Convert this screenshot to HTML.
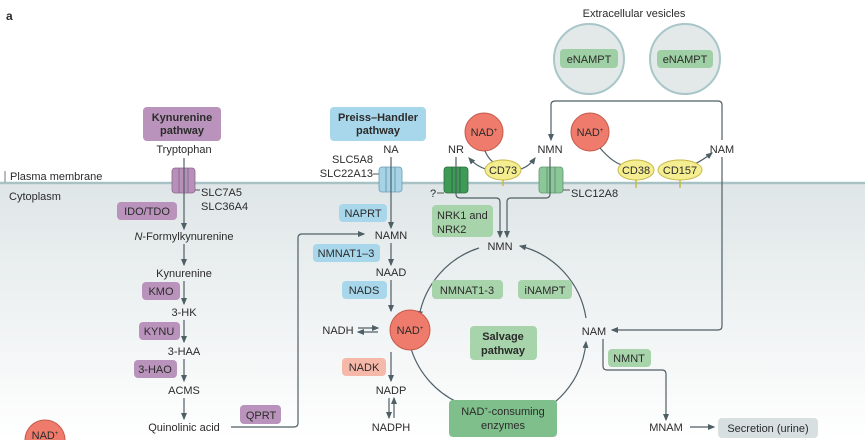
<!DOCTYPE html>
<html><head><meta charset="utf-8"><style>
html,body{margin:0;padding:0;background:#fff;}
svg{display:block;}
text{font-family:"Liberation Sans",sans-serif;font-size:11px;fill:#2b2b2b;}
.b{font-weight:bold;}
.ln{stroke:#4f5f66;stroke-width:1.2;fill:none;}
</style></head><body>
<svg width="865" height="440" viewBox="0 0 865 440" xmlns="http://www.w3.org/2000/svg">
<defs>
<linearGradient id="cg" x1="0" y1="0" x2="0" y2="1">
<stop offset="0" stop-color="#dfe6e7"/><stop offset="1" stop-color="#ffffff"/>
</linearGradient>
<marker id="ar" viewBox="0 0 6 6" refX="5" refY="3" markerWidth="6" markerHeight="6" orient="auto"><path d="M0,0.5 L6,3 L0,5.5 Z" fill="#4f5f66"/></marker>
</defs>
<rect x="0" y="183" width="865" height="257" fill="url(#cg)"/>
<line x1="0" y1="183" x2="865" y2="183" stroke="#a7c1c4" stroke-width="2.5"/>
<text x="6" y="20" class="b" style="font-size:12px">a</text>
<line x1="5" y1="171" x2="5" y2="182" stroke="#555" stroke-width="0.8"/>
<text x="10" y="180">Plasma membrane</text>
<text x="9" y="200">Cytoplasm</text>

<!-- vesicles -->
<text x="634" y="17" text-anchor="middle">Extracellular vesicles</text>
<circle cx="589" cy="59" r="35" fill="#e3e9e9" stroke="#a9c6c8" stroke-width="2"/>
<circle cx="685" cy="59" r="35" fill="#e3e9e9" stroke="#a9c6c8" stroke-width="2"/>
<rect x="560" y="49" width="58" height="19" rx="4" fill="#9fcfa4"/>
<text x="589" y="63" text-anchor="middle">eNAMPT</text>
<rect x="657" y="50" width="56" height="18" rx="4" fill="#9fcfa4"/>
<text x="685" y="63" text-anchor="middle">eNAMPT</text>

<!-- Kynurenine -->
<rect x="143" y="107" width="78" height="34" rx="4" fill="#b993bb"/>
<text x="182" y="121" text-anchor="middle" class="b">Kynurenine</text>
<text x="182" y="134" text-anchor="middle" class="b">pathway</text>
<text x="184" y="153" text-anchor="middle">Tryptophan</text>
<rect x="172" y="168" width="23" height="25" rx="3" fill="#b78fb9" stroke="#8b6a8d" stroke-width="0.8"/>
<line x1="179" y1="168" x2="179" y2="193" stroke="#8b6a8d"/><line x1="188" y1="168" x2="188" y2="193" stroke="#8b6a8d"/>
<line x1="195" y1="190" x2="200" y2="190" stroke="#555"/>
<text x="201" y="196">SLC7A5</text>
<text x="201" y="210">SLC36A4</text>
<line class="ln" x1="184" y1="158" x2="184" y2="229" marker-end="url(#ar)"/>
<rect x="117" y="202" width="60" height="18" rx="4" fill="#b993bb"/>
<text x="147" y="215" text-anchor="middle">IDO/TDO</text>
<text x="184" y="240" text-anchor="middle"><tspan font-style="italic">N</tspan>-Formylkynurenine</text>
<line class="ln" x1="184" y1="244" x2="184" y2="265" marker-end="url(#ar)"/>
<text x="184" y="277" text-anchor="middle">Kynurenine</text>
<line class="ln" x1="184" y1="281" x2="184" y2="304" marker-end="url(#ar)"/>
<rect x="142" y="282" width="38" height="18" rx="4" fill="#b993bb"/>
<text x="161" y="295" text-anchor="middle">KMO</text>
<text x="184" y="316" text-anchor="middle">3-HK</text>
<line class="ln" x1="184" y1="320" x2="184" y2="342" marker-end="url(#ar)"/>
<rect x="139" y="322" width="41" height="18" rx="4" fill="#b993bb"/>
<text x="159" y="335" text-anchor="middle">KYNU</text>
<text x="184" y="355" text-anchor="middle">3-HAA</text>
<line class="ln" x1="184" y1="359" x2="184" y2="381" marker-end="url(#ar)"/>
<rect x="134" y="360" width="43" height="18" rx="4" fill="#b993bb"/>
<text x="155" y="373" text-anchor="middle">3-HAO</text>
<text x="184" y="394" text-anchor="middle">ACMS</text>
<line class="ln" x1="184" y1="398" x2="184" y2="419" marker-end="url(#ar)"/>
<text x="184" y="431" text-anchor="middle">Quinolinic acid</text>
<rect x="240" y="405" width="41" height="19" rx="4" fill="#b993bb"/>
<text x="261" y="419" text-anchor="middle">QPRT</text>
<path class="ln" d="M231,427 H294 Q298,427 298,423 V238 Q298,234 302,234 H364" marker-end="url(#ar)"/>

<!-- Preiss-Handler -->
<rect x="330" y="107" width="96" height="34" rx="4" fill="#a8d6ea"/>
<text x="378" y="121" text-anchor="middle" class="b">Preiss–Handler</text>
<text x="378" y="134" text-anchor="middle" class="b">pathway</text>
<text x="391" y="153" text-anchor="middle">NA</text>
<text x="373" y="163" text-anchor="end">SLC5A8</text>
<text x="373" y="177" text-anchor="end">SLC22A13</text>
<line x1="373" y1="174" x2="379" y2="174" stroke="#555"/>
<rect x="379" y="167" width="23" height="25" rx="3" fill="#a6d3e6" stroke="#6b9db2" stroke-width="0.8"/>
<line x1="386" y1="167" x2="386" y2="192" stroke="#6b9db2"/><line x1="395" y1="167" x2="395" y2="192" stroke="#6b9db2"/>
<line class="ln" x1="391" y1="157" x2="391" y2="228" marker-end="url(#ar)"/>
<rect x="339" y="204" width="48" height="18" rx="4" fill="#a8d6ea"/>
<text x="363" y="217" text-anchor="middle">NAPRT</text>
<text x="391" y="239" text-anchor="middle">NAMN</text>
<line class="ln" x1="391" y1="243" x2="391" y2="265" marker-end="url(#ar)"/>
<rect x="313" y="244" width="67" height="18" rx="4" fill="#a8d6ea"/>
<text x="346" y="257" text-anchor="middle">NMNAT1–3</text>
<text x="391" y="276" text-anchor="middle">NAAD</text>
<line class="ln" x1="391" y1="280" x2="391" y2="311" marker-end="url(#ar)"/>
<rect x="342" y="281" width="45" height="18" rx="4" fill="#a8d6ea"/>
<text x="364" y="294" text-anchor="middle">NADS</text>
<text x="338" y="334" text-anchor="middle">NADH</text>
<line class="ln" x1="358" y1="328" x2="378" y2="328" marker-end="url(#ar)"/>
<line class="ln" x1="378" y1="332" x2="358" y2="332" marker-end="url(#ar)"/>
<line class="ln" x1="391" y1="352" x2="391" y2="381" marker-end="url(#ar)"/>
<rect x="342" y="358" width="44" height="18" rx="4" fill="#f6b8a8"/>
<text x="364" y="371" text-anchor="middle">NADK</text>
<text x="391" y="394" text-anchor="middle">NADP</text>
<line class="ln" x1="389" y1="398" x2="389" y2="418" marker-end="url(#ar)"/>
<line class="ln" x1="394" y1="418" x2="394" y2="398" marker-end="url(#ar)"/>
<text x="391" y="431" text-anchor="middle">NADPH</text>

<!-- salvage circle -->
<path class="ln" d="M479,248 A88,88 0 0 0 419,317" marker-end="url(#ar)"/>
<path class="ln" d="M410,345 A88,88 0 0 0 457,402"/>
<path class="ln" d="M555,402 A88,88 0 0 0 586,342" marker-end="url(#ar)"/>
<path class="ln" d="M586,318 A88,88 0 0 0 520,246" marker-end="url(#ar)"/>
<circle cx="410" cy="330" r="20" fill="#ee7b6c" stroke="#c55a4c" stroke-width="1"/>
<text x="410" y="334" text-anchor="middle">NAD<tspan font-size="6" dy="-4">+</tspan></text>
<text x="500" y="250" text-anchor="middle">NMN</text>
<rect x="432" y="280" width="71" height="19" rx="4" fill="#a8d4ab"/>
<text x="467" y="294" text-anchor="middle">NMNAT1-3</text>
<rect x="518" y="280" width="54" height="19" rx="4" fill="#a8d4ab"/>
<text x="545" y="294" text-anchor="middle">iNAMPT</text>
<rect x="470" y="326" width="67" height="34" rx="4" fill="#a8d4ab"/>
<text x="503" y="340" text-anchor="middle" class="b">Salvage</text>
<text x="503" y="354" text-anchor="middle" class="b">pathway</text>
<rect x="449" y="400" width="108" height="37" rx="4" fill="#7fbf8c"/>
<text x="503" y="415" text-anchor="middle">NAD<tspan font-size="6" dy="-4">+</tspan><tspan dy="4">-consuming</tspan></text>
<text x="503" y="429" text-anchor="middle">enzymes</text>
<text x="594" y="335" text-anchor="middle">NAM</text>

<!-- extracellular right -->
<circle cx="484" cy="132" r="19" fill="#ee7b6c" stroke="#c55a4c" stroke-width="1"/>
<text x="484" y="136" text-anchor="middle">NAD<tspan font-size="6" dy="-4">+</tspan></text>
<circle cx="590" cy="132" r="19" fill="#ee7b6c" stroke="#c55a4c" stroke-width="1"/>
<text x="590" y="136" text-anchor="middle">NAD<tspan font-size="6" dy="-4">+</tspan></text>
<text x="456" y="153" text-anchor="middle">NR</text>
<text x="550" y="153" text-anchor="middle">NMN</text>
<text x="722" y="153" text-anchor="middle">NAM</text>
<path class="ln" d="M485,151 Q490,162 496,163"/>
<path class="ln" d="M490,170 Q478,168 469,158" marker-end="url(#ar)"/>
<path class="ln" d="M517,170 Q528,168 535,158" marker-end="url(#ar)"/>
<path class="ln" d="M600,148 Q612,162 622,165"/>
<path class="ln" d="M693,165 Q703,160 712,153" marker-end="url(#ar)"/>
<line x1="503" y1="178" x2="503" y2="186" stroke="#c8b84a" stroke-width="1.5"/>
<ellipse cx="503" cy="170" rx="18" ry="10" fill="#f5ee90" stroke="#c8b84a"/>
<text x="503" y="174" text-anchor="middle">CD73</text>
<line x1="636" y1="178" x2="636" y2="188" stroke="#c8b84a" stroke-width="1.5"/>
<line x1="680" y1="178" x2="680" y2="188" stroke="#c8b84a" stroke-width="1.5"/>
<ellipse cx="636" cy="170" rx="18" ry="10" fill="#f5ee90" stroke="#c8b84a"/>
<text x="636" y="174" text-anchor="middle">CD38</text>
<ellipse cx="680" cy="170" rx="22" ry="10" fill="#f5ee90" stroke="#c8b84a"/>
<text x="680" y="174" text-anchor="middle">CD157</text>
<!-- green transporters -->
<rect x="444" y="167" width="24" height="26" rx="3" fill="#3e9a56" stroke="#2a6f3c" stroke-width="0.8"/>
<line x1="452" y1="167" x2="452" y2="193" stroke="#2a6f3c"/><line x1="460" y1="167" x2="460" y2="193" stroke="#2a6f3c"/>
<rect x="539" y="167" width="24" height="26" rx="3" fill="#8cc79a" stroke="#5c9a6a" stroke-width="0.8"/>
<line x1="547" y1="167" x2="547" y2="193" stroke="#5c9a6a"/><line x1="555" y1="167" x2="555" y2="193" stroke="#5c9a6a"/>
<text x="430" y="197">?</text>
<line x1="437" y1="193" x2="444" y2="193" stroke="#555"/>
<line x1="563" y1="190" x2="570" y2="190" stroke="#555"/>
<text x="571" y="197">SLC12A8</text>
<path class="ln" d="M456,157 V194 Q456,198 460,198 H496 Q500,198 500,202 V237" marker-end="url(#ar)"/>
<path class="ln" d="M550,157 V194 Q550,198 546,198 H511 Q507,198 507,202 V237" marker-end="url(#ar)"/>
<rect x="432" y="205" width="61" height="32" rx="4" fill="#a8d4ab"/>
<text x="437" y="219">NRK1 and</text>
<text x="437" y="233">NRK2</text>
<!-- big loop -->
<path class="ln" d="M722,157 V326 Q722,330 718,330 H612" marker-end="url(#ar)"/>
<path class="ln" d="M722,140 V105 Q722,101 718,101 H555 Q551,101 551,105 V140" marker-end="url(#ar)"/>
<!-- NMNT -->
<rect x="608" y="349" width="43" height="18" rx="4" fill="#a8d4ab"/>
<text x="629" y="362" text-anchor="middle">NMNT</text>
<path class="ln" d="M603,339 V366 Q603,370 607,370 H662 Q666,370 666,374 V420" marker-end="url(#ar)"/>
<text x="666" y="431" text-anchor="middle">MNAM</text>
<line class="ln" x1="690" y1="427" x2="714" y2="427" marker-end="url(#ar)"/>
<rect x="718" y="418" width="100" height="20" rx="4" fill="#d8dfe0"/>
<text x="768" y="432" text-anchor="middle">Secretion (urine)</text>
<!-- bottom-left NAD -->
<circle cx="45" cy="440" r="20" fill="#ee7b6c" stroke="#c55a4c" stroke-width="1"/>
<text x="45" y="439" text-anchor="middle">NAD<tspan font-size="6" dy="-4">+</tspan></text>
</svg>
</body></html>
